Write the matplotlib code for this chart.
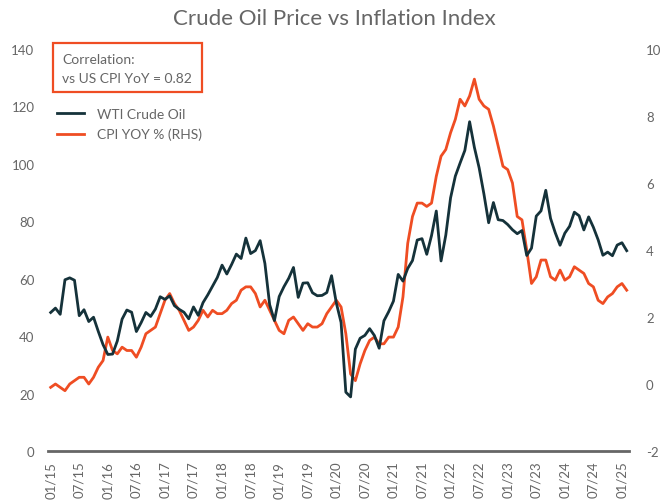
import numpy as np
import matplotlib
matplotlib.use("Agg")
import matplotlib.pyplot as plt
from matplotlib.patches import Rectangle

plt.rcParams['font.family'] = ['Lato', 'DejaVu Sans']
plt.rcParams['axes.unicode_minus'] = False

# month-end WTI crude ($/bbl), Jan 2015 .. Feb 2025
wti = [48.24, 49.76, 47.60, 59.63, 60.30, 59.47, 47.12, 49.20, 45.09, 46.59, 41.65, 37.04,
       33.62, 33.75, 38.34, 45.92, 49.10, 48.33, 41.60, 44.70, 48.24, 46.86, 49.44, 53.72,
       52.81, 54.01, 50.60, 49.33, 48.32, 46.04, 50.17, 47.23, 51.67, 54.38, 57.40, 60.42,
       64.73, 61.64, 64.94, 68.57, 67.04, 74.15, 68.76, 69.80, 73.25, 65.31, 50.93, 45.41,
       53.79, 57.22, 60.14, 63.91, 53.50, 58.47, 58.58, 55.10, 54.07, 54.18, 55.17, 61.06,
       51.56, 44.76, 20.48, 18.84, 35.49, 39.27, 40.27, 42.61, 40.22, 35.79, 45.34, 48.52,
       52.20, 61.50, 59.16, 63.58, 66.32, 73.47, 73.95, 68.50, 75.03, 83.57, 66.18, 75.21,
       88.15, 95.72, 100.28, 104.69, 114.67, 105.76, 98.62, 89.55, 79.49, 86.53, 80.55, 80.26,
       78.87, 77.05, 75.67, 76.78, 68.09, 70.64, 81.80, 83.63, 90.79, 81.02, 75.96, 71.65,
       75.85, 78.26, 83.17, 81.93, 76.99, 81.54, 77.91, 73.55, 68.17, 69.26, 68.00, 71.72,
       72.53, 69.76]

# US CPI YoY %, Jan 2015 .. Feb 2025
cpi = [-0.1, 0.0, -0.1, -0.2, 0.0, 0.1, 0.2, 0.2, 0.0, 0.2, 0.5, 0.7,
       1.4, 1.0, 0.9, 1.1, 1.0, 1.0, 0.8, 1.1, 1.5, 1.6, 1.7, 2.1,
       2.5, 2.7, 2.4, 2.2, 1.9, 1.6, 1.7, 1.9, 2.2, 2.0, 2.2, 2.1,
       2.1, 2.2, 2.4, 2.5, 2.8, 2.9, 2.9, 2.7, 2.3, 2.5, 2.2, 1.9,
       1.6, 1.5, 1.9, 2.0, 1.8, 1.6, 1.8, 1.7, 1.7, 1.8, 2.1, 2.3,
       2.5, 2.3, 1.5, 0.3, 0.1, 0.6, 1.0, 1.3, 1.4, 1.2, 1.2, 1.4,
       1.4, 1.7, 2.6, 4.2, 5.0, 5.4, 5.4, 5.3, 5.4, 6.2, 6.8, 7.0,
       7.5, 7.9, 8.5, 8.3, 8.6, 9.1, 8.5, 8.3, 8.2, 7.7, 7.1, 6.5,
       6.4, 6.0, 5.0, 4.9, 4.0, 3.0, 3.2, 3.7, 3.7, 3.2, 3.1, 3.4,
       3.1, 3.2, 3.5, 3.4, 3.3, 3.0, 2.9, 2.5, 2.4, 2.6, 2.7, 2.9,
       3.0, 2.8]

tick_labels = ['%02d/%02d' % (m, y) for y in range(15, 26) for m in (1, 7)][:21]

dark = '#15323a'
orange = '#ef4d23'
grey = '#666666'

fig = plt.figure(figsize=(6.69, 5.02), dpi=100)
ax = fig.add_axes([0.0722, 0.0996, 0.8685, 0.8008])
ax2 = ax.twinx()

x = np.arange(len(wti))
l1, = ax.plot(x, wti, color=dark, lw=2.0, label='WTI Crude Oil', zorder=3)
l2, = ax2.plot(x, cpi, color=orange, lw=2.0, label='CPI YOY % (RHS)', zorder=2)

ax.set_xlim(-0.5, len(wti) - 0.45)
ax.set_ylim(0, 140)
ax2.set_ylim(-2, 10)
ax.set_yticks(range(0, 141, 20))
ax2.set_yticks(range(-2, 11, 2))
ax.set_xticks(range(0, 121, 6))
ax.set_xticklabels(tick_labels, rotation=90)

for a in (ax, ax2):
    for s in a.spines.values():
        s.set_visible(False)
    a.tick_params(length=0, colors=grey, labelsize=9.5)
ax.tick_params(axis='y', pad=10)
ax2.tick_params(axis='y', pad=12)
ax.tick_params(axis='x', pad=7)
ax.spines['bottom'].set_visible(True)
ax.spines['bottom'].set_color(grey)
ax.spines['bottom'].set_linewidth(2)

ax.set_zorder(ax2.get_zorder() + 1)
ax.patch.set_visible(False)

fig.suptitle('Crude Oil Price vs Inflation Index', x=0.5, y=0.983, fontsize=16, color=grey)

# correlation box
ax.add_patch(Rectangle((0.008, 0.893), 0.256, 0.122, transform=ax.transAxes,
                       fill=False, edgecolor=orange, lw=1.6, clip_on=False, zorder=5))
ax.text(0.0236, 0.975, 'Correlation:', transform=ax.transAxes, fontsize=10,
        color=grey, va='center', ha='left')
ax.text(0.0236, 0.928, 'vs US CPI YoY = 0.82', transform=ax.transAxes, fontsize=10,
        color=grey, va='center', ha='left')

leg = ax.legend(handles=[l1, l2], loc='upper left', bbox_to_anchor=(0.0, 0.875),
                frameon=False, fontsize=10, handlelength=2.0, handletextpad=0.9,
                labelspacing=0.6, borderaxespad=0.2)
for t in leg.get_texts():
    t.set_color(grey)

fig.savefig('out.png', dpi=100)
